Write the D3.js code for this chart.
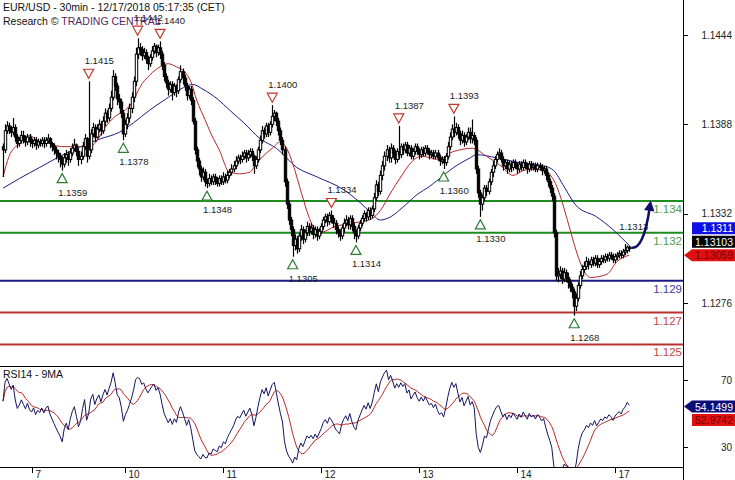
<!DOCTYPE html>
<html>
<head>
<meta charset="utf-8">
<script src="https://cdn.jsdelivr.net/npm/d3@7"></script>
<style>
  body { margin: 0; background: #fff; }
  svg { display: block; font-family: "Liberation Sans", Arial, sans-serif; }
</style>
</head>
<body>
<div id="chart"></div>
<script>
// EUR/USD 30min bars, Dec 6 17:00 CET -> Dec 17 05:00 CET
// prices in pips above 1.1000 (372 = 1.1372)
const firstOpen = 374;
const closes = [
  372,384,387,385,383,386,380,376,378,381, 379,377,380,377,376,378,375,377,376,378,
  376,378,379,376,374,372,370,368,366,363, 367,369,366,370,373,375,371,366,368,374,
  379,368,372,382,386,380,385,388,384,390, 395,392,398,405,418,412,404,402,395,382,
  388,392,398,405,415,432,436,435,431,433, 429,426,430,434,437,433,436,432,425,418,
  414,410,413,408,412,409,416,421,417,412, 406,410,403,390,372,365,360,355,358,352,
  351,354,352,355,353,351,354,352,355,353, 356,358,360,362,365,367,366,368,370,367,
  369,371,368,362,366,372,378,384,382,387, 383,388,393,395,390,384,378,372,352,338,
  328,322,312,316,310,318,322,316,320,324, 321,323,319,322,318,321,324,328,330,327,
  331,329,326,322,320,318,323,326,328,325, 329,324,320,318,323,326,329,332,330,334,
  331,335,342,350,346,356,362,368,372,367, 373,370,366,371,369,374,372,375,370,373,
  368,371,374,371,369,372,370,373,371,369, 370,368,370,367,365,366,364,368,374,380,
  385,383,386,382,378,381,377,380,383,379, 381,378,360,345,338,342,348,346,352,358,
  362,366,369,370,366,362,364,360,363,361, 364,362,360,363,361,364,362,360,363,361,
  362,360,362,361,359,360,356,352,348,343, 320,293,294,296,291,295,292,289,286,283,
  274,279,287,293,297,299,302,300,303,301, 304,300,302,304,303,305,304,306,305,303,
  305,306,307,306,308,309,311,310
];
const highs = [
  376,388,390,389,387,392,388,382,380,384, 384,381,382,382,379,380,380,379,379,380,
  380,380,382,380,377,376,374,372,370,368, 370,372,371,373,376,379,376,373,371,377,
  382,380,415,385,389,388,388,391,390,393, 398,397,401,409,422,420,414,407,404,397,
  391,395,401,408,418,436,442,439,437,436, 435,431,432,437,439,438,438,440,434,427,
  420,416,415,415,414,413,418,425,423,419, 414,412,412,405,392,374,367,362,361,360,
  354,357,356,357,357,355,356,356,358,357, 359,360,363,365,368,369,369,371,372,372,
  372,373,373,369,368,374,381,387,386,389, 389,390,400,397,396,392,386,380,374,354,
  340,330,324,319,318,320,325,324,322,327, 326,326,325,324,324,323,326,330,332,332,
  333,334,331,328,324,322,325,329,331,330, 331,331,326,322,325,328,331,334,333,336,
  336,337,345,353,352,359,365,371,375,374, 376,375,372,373,387,376,376,377,377,375,
  375,373,376,376,373,374,374,375,375,373, 372,372,372,372,369,368,368,370,377,383,
  388,393,389,388,384,384,383,382,386,386, 391,383,380,362,347,344,350,350,354,360,
  365,368,371,373,372,368,366,366,365,365, 366,366,364,365,365,366,366,364,365,365,
  364,364,364,364,363,362,362,358,354,350, 345,322,298,299,298,298,297,295,291,288,
  285,282,289,296,300,302,305,304,305,305, 306,306,304,306,306,307,307,308,308,307,
  307,308,309,309,310,313,312,312
];
const lows = [
  355,370,382,382,380,381,377,373,374,376, 376,374,375,374,373,374,372,373,374,374,
  373,374,376,373,371,369,366,364,361,359, 361,364,362,364,368,371,368,362,363,366,
  372,364,366,370,380,377,379,383,381,382, 387,389,390,396,403,409,400,398,392,378,
  380,385,389,395,402,412,429,431,428,429, 426,422,424,428,432,430,431,429,422,415,
  411,406,408,403,406,405,407,414,413,409, 403,404,400,388,369,361,356,352,353,349,
  348,349,350,350,350,349,349,350,350,351, 351,354,356,358,360,363,363,364,366,364,
  365,367,365,357,360,364,370,376,379,380, 380,381,386,390,387,381,375,369,349,335,
  325,318,305,309,307,308,315,313,314,318, 318,319,316,317,315,316,319,322,326,324,
  325,326,323,319,317,315,316,320,324,322, 322,321,316,314,316,321,324,327,327,328,
  328,329,333,340,343,344,353,359,365,364, 364,367,363,364,366,367,369,370,368,368,
  366,366,369,369,366,367,368,368,369,366, 367,366,366,365,362,363,360,362,366,372,
  378,380,381,379,375,376,374,375,378,376, 376,375,357,342,330,334,340,343,344,350,
  355,360,364,367,364,359,360,357,358,358, 359,360,357,358,359,359,360,357,358,359,
  359,358,358,359,356,357,353,349,345,340, 317,290,289,291,288,289,289,285,283,279,
  268,271,277,285,291,295,297,297,298,299, 299,298,298,300,301,301,302,302,303,301,
  301,303,304,304,304,306,307,308
];

// moving averages as [bar, pips]
const redMA = [
  [0,355],[3,368],[8,376],[13,381],[18,377],[22,378],[25,375],[30,374],[35,374],[42,374],
  [45,376],[50,386],[55,393],[60,397],[64,403],[67,411],[72,419],[77,424],[81,426],[85,424],
  [89,421],[92,415],[95,403],[99,391],[102,382],[106,372],[111,358],[116,357],[121,358],[123,361],
  [126,366],[132,373],[136,377],[155,320],[163,324],[170,326],[176,327],[181,329],[185,334],[190,345],
  [195,355],[200,364],[205,368],[214,366],[219,370],[224,372],[230,373],[237,368],[244,362],[250,356],
  [255,359],[260,360],[267,358],[269,355],[288,292],[296,294],[301,302],[307,306]
];
const blueMA = [
  [0,348],[8,354],[18,361],[28,368],[38,374],[48,379],[57,383],[64,389],[72,397],[80,404],
  [87,410],[93,413],[98,410],[105,404],[111,397],[118,389],[126,379],[134,373],[144,361],[154,355],
  [167,347],[175,339],[180,333],[185,328],[190,330],[196,336],[203,344],[209,349],[213,353],[221,361],
  [229,367],[232,369],[242,367],[253,364],[265,362],[270,359],[275,349],[281,337],[291,330],[299,322],
  [307,312]
];

// RSI state carried in from before the first bar (average gain / loss in pips)
const rsiSeed = { gain: 1.55, loss: 1.0 };

const dayStarts = [14, 60, 108, 156, 204, 252, 300];
const dayLabels = ["7", "10", "11", "12", "13", "14", "17"];

const peakBars = [42, 66, 77, 132, 161, 194, 221];
const peakLabels = ["1.1415", "1.1442", "1.1440", "1.1400", "1.1334", "1.1387", "1.1393"];
const troughBars = [29, 59, 100, 142, 173, 216, 234, 280];
const troughLabels = ["1.1359", "1.1378", "1.1348", "1.1305", "1.1314", "1.1360", "1.1330", "1.1268"];

const levels = [1.134, 1.132, 1.129, 1.127, 1.125];
const levelLabels = ["1.134", "1.132", "1.129", "1.127", "1.125"];
const levelKinds = ["res", "res", "pivot", "sup", "sup"];

const priceTicks = [1.1444, 1.1388, 1.1332, 1.1276];
const rsiTicks = [70, 30];

const priceBoxes = [
  { value: 1.1311, text: "1.1311", kind: "blue" },
  { value: 1.13103, text: "1.13103", kind: "black" },
  { value: 1.13059, text: "1.13059", kind: "red", anchor: true }
];
const rsiBoxes = [
  { value: 54.1499, text: "54.1499", kind: "navy", anchor: true },
  { value: 52.9742, text: "52.9742", kind: "red" }
];
const target = { bar: 317, price: 1.1342 };
const lastHigh = { bar: 304, text: "1.1313" };

// ---------------------------------------------------------------
const W = 735, H = 480;
const plotR = 683, mainBottom = 366, rsiBottom = 467;
const pip = p => 1.1 + p / 10000;

const col = {
  res: "#1e8c1e", pivot: "#1a1a80", sup: "#b83232",
  resText: "#4f9a4f", pivotText: "#3c3c9c", supText: "#c24646",
  navy: "#0e0e6a", red: "#b42828"
};

const svg = d3.select("#chart").append("svg").attr("width", W).attr("height", H);

const x = d3.scaleLinear().domain([0, 307]).range([3, 3 + 307 * 2.04]);
const y = d3.scaleLinear().domain([1.1276, 1.1444]).range([303, 35]);
const yR = d3.scaleLinear().domain([30, 70]).range([447, 380]);

const defs = svg.append("defs");
defs.append("clipPath").attr("id", "mainClip")
  .append("rect").attr("x", 0).attr("y", 0).attr("width", plotR).attr("height", mainBottom);
defs.append("clipPath").attr("id", "rsiClip")
  .append("rect").attr("x", 0).attr("y", mainBottom + 1).attr("width", plotR).attr("height", rsiBottom - mainBottom - 1);

const main = svg.append("g").attr("clip-path", "url(#mainClip)");

// horizontal levels
main.selectAll("line.level").data(levels).join("line")
  .attr("x1", 0).attr("x2", plotR)
  .attr("y1", d => y(d)).attr("y2", d => y(d))
  .attr("stroke", (d, i) => col[levelKinds[i]]).attr("stroke-width", 2);

main.selectAll("text.level").data(levels).join("text")
  .attr("x", plotR - 1).attr("y", d => y(d) + 12)
  .attr("text-anchor", "end").attr("font-size", 11.5)
  .attr("fill", (d, i) => col[levelKinds[i] + "Text"])
  .text((d, i) => levelLabels[i]);

// moving averages
const maLine = d3.line().x(d => x(d[0])).y(d => y(pip(d[1]))).curve(d3.curveMonotoneX);
main.append("path").attr("d", maLine(blueMA)).attr("fill", "none").attr("stroke", "#1c1c88").attr("stroke-width", 1);
main.append("path").attr("d", maLine(redMA)).attr("fill", "none").attr("stroke", "#b42828").attr("stroke-width", 1);

// bars
const bars = closes.map((c, i) => ({
  i, open: i ? closes[i - 1] : firstOpen, close: c, high: highs[i], low: lows[i]
}));
const barG = main.append("g");
barG.selectAll("line").data(bars).join("line")
  .attr("x1", d => Math.round(x(d.i)) + 0.5).attr("x2", d => Math.round(x(d.i)) + 0.5)
  .attr("y1", d => y(pip(d.high))).attr("y2", d => y(pip(d.low)))
  .attr("stroke", "#000").attr("stroke-width", 1.2);
barG.selectAll("rect").data(bars).join("rect")
  .attr("x", d => Math.round(x(d.i)) - 0.7)
  .attr("width", 2.4)
  .attr("y", d => y(pip(Math.max(d.open, d.close))))
  .attr("height", d => Math.max(1, Math.abs(y(pip(d.open)) - y(pip(d.close)))))
  .attr("fill", d => d.close > d.open ? "#fff" : "#000")
  .attr("stroke", "#000").attr("stroke-width", 1);

// peak / trough markers
const triW = 5, triH = 9;
peakBars.forEach((b, k) => {
  const cx = x(b), hy = y(pip(highs[b]));
  main.append("path")
    .attr("d", `M${cx - triW},${hy - 3 - triH}L${cx + triW},${hy - 3 - triH}L${cx},${hy - 3}Z`)
    .attr("fill", "#fff").attr("stroke", "#c0392b").attr("stroke-width", 1.2);
  main.append("text").attr("x", cx - 4).attr("y", hy - 17)
    .attr("font-size", 9.5).attr("fill", "#222").text(peakLabels[k]);
});
troughBars.forEach((b, k) => {
  const cx = x(b), ly = y(pip(lows[b]));
  main.append("path")
    .attr("d", `M${cx - triW},${ly + 3 + triH}L${cx + triW},${ly + 3 + triH}L${cx},${ly + 3}Z`)
    .attr("fill", "#fff").attr("stroke", "#2e7d32").attr("stroke-width", 1.2);
  main.append("text").attr("x", cx - 4).attr("y", ly + 25)
    .attr("font-size", 9.5).attr("fill", "#222").text(troughLabels[k]);
});
main.append("text").attr("x", x(lastHigh.bar) - 4).attr("y", y(pip(highs[lastHigh.bar])) - 19)
  .attr("font-size", 9.5).attr("fill", "#222").text(lastHigh.text);

// target arrow
defs.append("marker").attr("id", "head")
  .attr("viewBox", "0 0 10 10").attr("refX", 3).attr("refY", 5)
  .attr("markerWidth", 5.5).attr("markerHeight", 4.2).attr("orient", "auto")
  .append("path").attr("d", "M0,0L10,5L0,10Z").attr("fill", col.navy);
const last = closes.length - 1;
const ax0 = x(last) + 2, ay0 = y(pip(closes[last])) - 1;
const ax1 = x(target.bar), ay1 = y(target.price) + 10;
main.append("path")
  .attr("d", `M${ax0},${ay0}Q${x(target.bar - 3)},${ay0 + 2} ${ax1},${ay1}`)
  .attr("fill", "none").attr("stroke", col.navy).attr("stroke-width", 2.5)
  .attr("marker-end", "url(#head)");

// header
svg.append("text").attr("x", 3).attr("y", 11).attr("font-size", 10.5).attr("fill", "#111")
  .text("EUR/USD - 30min - 12/17/2018 05:17:35 (CET)");
const h2 = svg.append("text").attr("x", 3).attr("y", 25).attr("font-size", 10.5).attr("fill", "#111");
h2.append("tspan").text("Research © ");
h2.append("tspan").attr("fill", "#5a1f66").text("TRADING CENTRAL");

// RSI panel (Wilder RSI14 from the closes, then its 9-bar average)
function rsi(vals, n, seed) {
  const out = [];
  let ag = seed.gain, al = seed.loss;
  for (let i = 1; i < vals.length; i++) {
    const d = vals[i] - vals[i - 1], g = Math.max(d, 0), l = Math.max(-d, 0);
    ag = (ag * (n - 1) + g) / n;
    al = (al * (n - 1) + l) / n;
    out.push([i - 1, 100 - 100 / (1 + ag / al)]);
  }
  return out;
}
const rsiVals = rsi([firstOpen].concat(closes), 14, rsiSeed);
const rsiMA = rsiVals.map((d, i) => {
  const win = rsiVals.slice(Math.max(0, i - 8), i + 1);
  return [d[0], d3.mean(win, w => w[1])];
});
const rsiG = svg.append("g").attr("clip-path", "url(#rsiClip)");
const rLine = d3.line().x(d => x(d[0])).y(d => yR(d[1]));
rsiG.append("path").attr("d", rLine(rsiMA)).attr("fill", "none").attr("stroke", "#b42828").attr("stroke-width", 1);
rsiG.append("path").attr("d", rLine(rsiVals)).attr("fill", "none").attr("stroke", "#14145e").attr("stroke-width", 1);
svg.append("text").attr("x", 3).attr("y", 378).attr("font-size", 10.5).attr("fill", "#111").text("RSI14 - 9MA");

// frames
svg.append("line").attr("x1", 0).attr("x2", plotR).attr("y1", mainBottom + 0.5).attr("y2", mainBottom + 0.5).attr("stroke", "#000");
svg.append("line").attr("x1", 0).attr("x2", plotR).attr("y1", rsiBottom + 0.5).attr("y2", rsiBottom + 0.5).attr("stroke", "#000");
svg.append("line").attr("x1", plotR + 0.5).attr("x2", plotR + 0.5).attr("y1", 0).attr("y2", H).attr("stroke", "#000");

// right axes
const axisG = svg.append("g");
axisG.selectAll("line.pt").data(priceTicks).join("line")
  .attr("x1", plotR).attr("x2", plotR + 5).attr("y1", d => Math.round(y(d)) + 0.5).attr("y2", d => Math.round(y(d)) + 0.5)
  .attr("stroke", "#000");
axisG.selectAll("text.pt").data(priceTicks).join("text")
  .attr("x", 732).attr("y", d => y(d) + 3.5).attr("text-anchor", "end")
  .attr("font-size", 10).attr("fill", "#222").text(d => d3.format(".4f")(d));
axisG.selectAll("line.rt").data(rsiTicks).join("line")
  .attr("x1", plotR).attr("x2", plotR + 5).attr("y1", d => Math.round(yR(d)) + 0.5).attr("y2", d => Math.round(yR(d)) + 0.5)
  .attr("stroke", "#000");
axisG.selectAll("text.rt").data(rsiTicks).join("text")
  .attr("x", 732).attr("y", d => yR(d) + 3.5).attr("text-anchor", "end")
  .attr("font-size", 10).attr("fill", "#222").text(d => d);

// bottom date axis
dayStarts.forEach((b, k) => {
  const tx = Math.round(x(b)) + 0.5;
  svg.append("line").attr("x1", tx).attr("x2", tx).attr("y1", rsiBottom).attr("y2", rsiBottom + 6).attr("stroke", "#000");
  svg.append("text").attr("x", tx + 3).attr("y", 478).attr("font-size", 10).attr("fill", "#222").text(dayLabels[k]);
});

// value boxes on the right scale
const boxStyle = {
  blue: { bg: "#1010e6", fg: "#fff" },
  black: { bg: "#000", fg: "#fff" },
  red: { bg: "#e01010", fg: "#7a0000" },
  navy: { bg: "#0c0c78", fg: "#fff" }
};
function placeBoxes(list, scale) {
  const step = 13.5;
  const sorted = list.slice().sort((a, b) => b.value - a.value);
  const ai = sorted.findIndex(d => d.anchor);
  sorted.forEach(d => d.cy = scale(d.value));
  for (let i = ai - 1; i >= 0; i--) sorted[i].cy = Math.min(sorted[i].cy, sorted[i + 1].cy - step);
  for (let i = ai + 1; i < sorted.length; i++) sorted[i].cy = Math.max(sorted[i].cy, sorted[i - 1].cy + step);
  sorted.forEach(d => {
    const st = boxStyle[d.kind];
    const top = d.cy - 6, bot = d.cy + 6;
    const path = d.anchor
      ? `M${plotR + 1},${d.cy}L${plotR + 9},${top}L${W},${top}L${W},${bot}L${plotR + 9},${bot}Z`
      : `M${plotR + 9},${top}L${W},${top}L${W},${bot}L${plotR + 9},${bot}Z`;
    svg.append("path").attr("d", path).attr("fill", st.bg);
    svg.append("text").attr("x", 733).attr("y", d.cy + 4).attr("text-anchor", "end")
      .attr("font-size", 10.5).attr("fill", st.fg).text(d.text);
  });
}
placeBoxes(priceBoxes, y);
placeBoxes(rsiBoxes, yR);
</script>
</body>
</html>
